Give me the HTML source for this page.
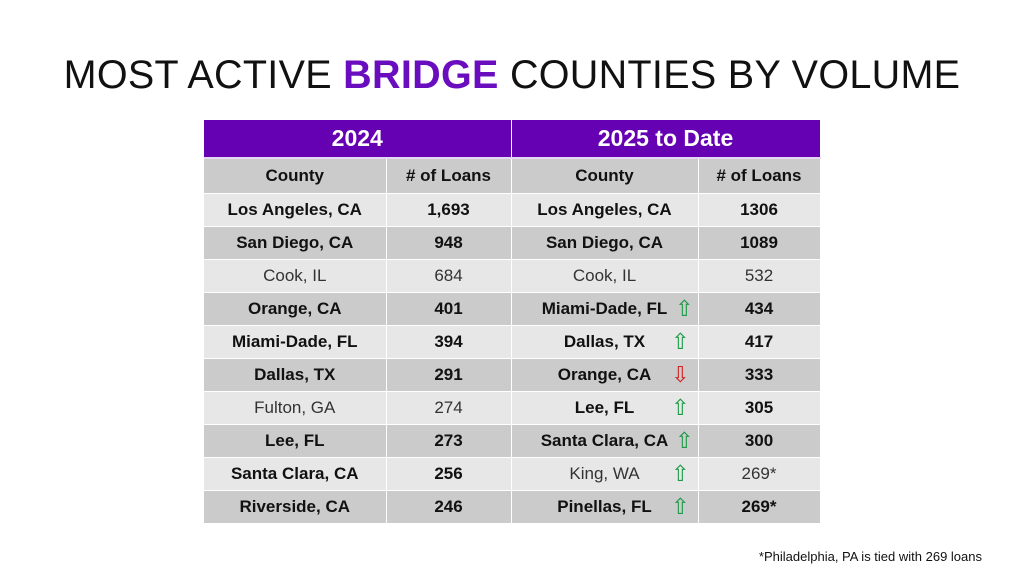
<!DOCTYPE html>
<html><head><style>
body{margin:0;width:1024px;height:576px;background:#fff;font-family:"Liberation Sans",sans-serif;position:relative;overflow:hidden}
h1{position:absolute;top:52px;left:0;width:1024px;text-align:center;margin:0;font-weight:normal;font-size:40px;letter-spacing:0.3px;color:#111;line-height:46px;transform:scaleX(0.988)}
h1 b{color:#6a0dbf}
table{position:absolute;left:204px;top:120px;border-collapse:collapse;table-layout:fixed}
td{height:33px;padding:0;text-align:center;font-size:17px;font-weight:bold;color:#111;border-right:1px solid #fff;border-bottom:1px solid #fff;box-sizing:border-box}
tr.h td{background:#6600b3;color:#fff;font-size:23px;height:38px;border-bottom:2px solid #e6d8f2}
tr.s td{height:35px;background:#cbcbcb}
tr.l td{background:#e7e7e7}
tr.d td{background:#cbcbcb}
td.n{font-weight:normal;color:#333}
.u,.dn{font-weight:normal;font-size:22px;position:absolute;right:8px;top:3px}
.u{color:#1a9a45}.dn{color:#d02020}
td.r{position:relative}
.f{position:absolute;right:42px;top:549px;font-size:13px;color:#111}
</style></head><body>
<h1>MOST ACTIVE <b>BRIDGE</b> COUNTIES BY VOLUME</h1>
<table>
<colgroup><col style="width:182px"><col style="width:125px"><col style="width:187px"><col style="width:122px"></colgroup>
<tr class="h"><td colspan="2">2024</td><td colspan="2">2025 to Date</td></tr>
<tr class="s"><td>County</td><td># of Loans</td><td>County</td><td># of Loans</td></tr>
<tr class="l"><td>Los Angeles, CA</td><td>1,693</td><td>Los Angeles, CA</td><td>1306</td></tr>
<tr class="d"><td>San Diego, CA</td><td>948</td><td>San Diego, CA</td><td>1089</td></tr>
<tr class="l"><td class="n">Cook, IL</td><td class="n">684</td><td class="n">Cook, IL</td><td class="n">532</td></tr>
<tr class="d"><td>Orange, CA</td><td>401</td><td class="r">Miami-Dade, FL<span class="u" style="right:4px">⇧</span></td><td>434</td></tr>
<tr class="l"><td>Miami-Dade, FL</td><td>394</td><td class="r">Dallas, TX<span class="u">⇧</span></td><td>417</td></tr>
<tr class="d"><td>Dallas, TX</td><td>291</td><td class="r">Orange, CA<span class="dn">⇩</span></td><td>333</td></tr>
<tr class="l"><td class="n">Fulton, GA</td><td class="n">274</td><td class="r">Lee, FL<span class="u">⇧</span></td><td>305</td></tr>
<tr class="d"><td>Lee, FL</td><td>273</td><td class="r">Santa Clara, CA<span class="u" style="right:4px">⇧</span></td><td>300</td></tr>
<tr class="l"><td>Santa Clara, CA</td><td>256</td><td class="r n">King, WA<span class="u">⇧</span></td><td class="n">269*</td></tr>
<tr class="d"><td>Riverside, CA</td><td>246</td><td class="r">Pinellas, FL<span class="u">⇧</span></td><td>269*</td></tr>
</table>
<div class="f">*Philadelphia, PA is tied with 269 loans</div>
</body></html>
